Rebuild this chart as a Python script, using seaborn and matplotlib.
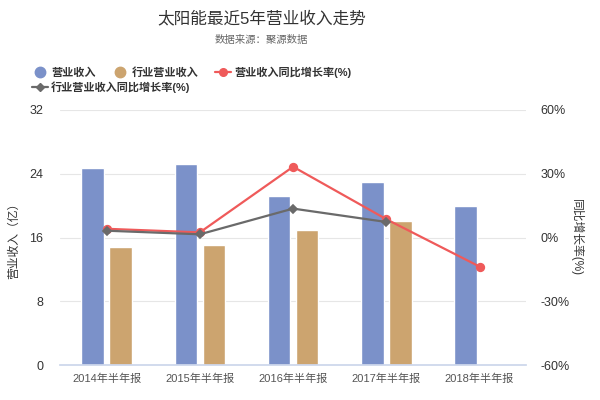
import numpy as np
import pandas as pd
import matplotlib
matplotlib.use("Agg")
import matplotlib.pyplot as plt
from matplotlib.lines import Line2D
import seaborn as sns


years = ["2014年半年报", "2015年半年报", "2016年半年报", "2017年半年报", "2018年半年报"]
revenue = [24.7, 25.2, 21.2, 23.0, 19.9]
industry_revenue = [14.8, 15.0, 16.9, 18.1, np.nan]
revenue_yoy = [4.1, 2.4, 33.3, 8.6, -13.7]
industry_yoy = [3.2, 1.5, 13.6, 7.3, np.nan]

bar_names = ["营业收入", "行业营业收入"]
line_names = ["营业收入同比增长率(%)", "行业营业收入同比增长率(%)"]
left_ticks = [0, 8, 16, 24, 32]
right_ticks = [-60, -30, 0, 30, 60]

blue, tan, red, gray = "#7b91c9", "#cca46f", "#ef5a5a", "#6a6a6a"

sns.set_theme(style="white")
plt.rcParams["font.family"] = ["Liberation Sans", "Noto Sans CJK SC", "DejaVu Sans"]

bars = pd.DataFrame({"year": years * 2,
                     "series": [bar_names[0]] * len(years) + [bar_names[1]] * len(years),
                     "value": revenue + industry_revenue})
lines = pd.DataFrame({"year": years * 2,
                      "series": [line_names[0]] * len(years) + [line_names[1]] * len(years),
                      "value": revenue_yoy + industry_yoy})

fig = plt.figure(figsize=(6, 4), dpi=100)
ax = fig.add_axes([0.1, 0.0875, 0.777, 0.6375])

sns.barplot(data=bars, x="year", y="value", hue="series", palette=[blue, tan],
            width=0.6, gap=0.2, saturation=1, legend=False, ax=ax)
ax.set_ylim(0, 32)
ax.set_yticks(left_ticks)
ax.yaxis.grid(True, color="#e6e6e6", lw=0.8)
ax.set_axisbelow(True)
for s in ["left", "right", "top"]:
    ax.spines[s].set_visible(False)
ax.spines["bottom"].set_color("#ccd6eb")
ax.set_xlim(-0.5, len(years) - 0.5)
ax.set_xticks(np.arange(-0.5, len(years)), minor=True)
ax.tick_params(axis="x", which="minor", length=8, color="#ccd6eb", width=1)
ax.tick_params(axis="x", which="major", length=0, pad=6, labelsize=8, labelcolor="#555555")
ax.tick_params(axis="y", length=0, pad=12, labelsize=9, labelcolor="#333333")
ax.set_xlabel("")
ax.set_ylabel("营业收入（亿）", fontsize=8.5, color="#333333")
ax.yaxis.set_label_coords(-0.085, 0.5)

ax2 = ax.twinx()
sns.pointplot(data=lines, x="year", y="value", hue="series", palette=[red, gray],
              markers=["o", "D"], linestyles=["-", "-"], errorbar=None,
              legend=False, markersize=5.5, linewidth=1.6, ax=ax2)
# gray diamonds a bit smaller than the red dots
for ln in ax2.lines:
    if ln.get_marker() == "D":
        ln.set_markersize(4.2)
ax2.set_ylim(-60, 60)
ax2.set_yticks(right_ticks)
ax2.set_yticklabels([f"{t}%" for t in right_ticks])
for s in ax2.spines.values():
    s.set_visible(False)
ax2.tick_params(axis="y", length=0, pad=10, labelsize=9, labelcolor="#333333")
ax2.set_ylabel("同比增长率(%)", fontsize=8.5, color="#333333", rotation=270)
ax2.yaxis.set_label_coords(1.122, 0.5)
ax2.set_xlabel("")

fig.text(0.437, 0.955, "太阳能最近5年营业收入走势", ha="center", va="center",
         fontsize=12, color="#333333")
fig.text(0.435, 0.9, "数据来源：聚源数据", ha="center", va="center",
         fontsize=7.5, color="#666666")

h1 = [Line2D([], [], ls="none", marker="o", ms=7.5, color=blue),
      Line2D([], [], ls="none", marker="o", ms=7.5, color=tan),
      Line2D([], [], color=red, lw=1.6, marker="o", ms=5.5)]
h2 = [Line2D([], [], color=gray, lw=1.6, marker="D", ms=4.2)]
lkw = dict(frameon=False, borderpad=0, borderaxespad=0, handlelength=1.45,
           handletextpad=0.3, columnspacing=1.5,
           prop={"weight": "bold", "size": 8}, labelcolor="#333333")
fig.legend(h1, bar_names + line_names[:1], loc="center left",
           bbox_to_anchor=(0.053, 0.82), ncol=3, **lkw)
fig.legend(h2, line_names[1:], loc="center left",
           bbox_to_anchor=(0.053, 0.782), ncol=1, **lkw)

fig.savefig("out.png", dpi=100)
